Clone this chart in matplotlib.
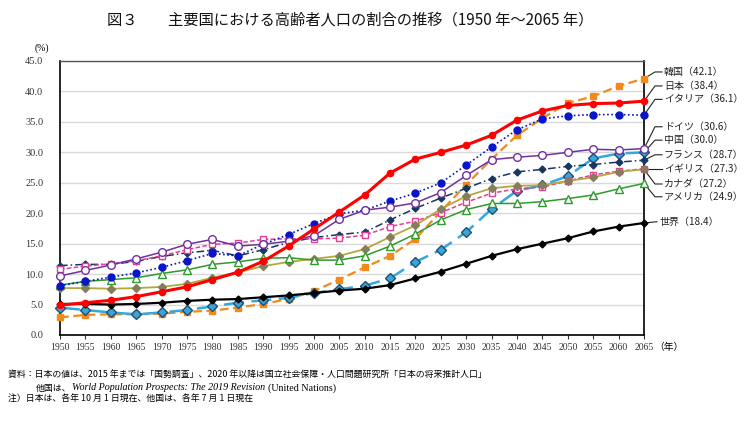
import matplotlib
matplotlib.use("Agg")
import matplotlib.pyplot as plt
import numpy as np

plt.rcParams['font.family'] = ['Noto Sans CJK JP', 'DejaVu Sans']

years = list(range(1950, 2070, 5))

korea   = [2.9, 3.3, 3.4, 3.4, 3.5, 3.8, 4.0, 4.5, 5.1, 5.9, 7.2, 9.1, 11.1, 13.0, 15.8, 20.3, 24.7, 28.9, 32.8, 35.6, 38.1, 39.2, 40.9, 42.1]
japan   = [4.9, 5.3, 5.7, 6.3, 7.1, 7.9, 9.1, 10.3, 12.1, 14.6, 17.4, 20.2, 23.0, 26.6, 28.9, 30.0, 31.2, 32.8, 35.3, 36.8, 37.7, 38.0, 38.1, 38.4]
italy   = [8.1, 8.8, 9.5, 10.2, 11.1, 12.2, 13.4, 13.0, 14.9, 16.5, 18.3, 19.9, 20.5, 22.0, 23.3, 25.0, 27.9, 30.9, 33.7, 35.5, 36.0, 36.2, 36.2, 36.1]
germany = [9.7, 10.6, 11.5, 12.5, 13.6, 14.9, 15.7, 14.6, 14.9, 15.4, 16.3, 19.0, 20.5, 21.0, 21.7, 23.4, 26.2, 28.8, 29.2, 29.5, 30.0, 30.5, 30.4, 30.6]
china   = [4.5, 4.1, 3.7, 3.4, 3.7, 4.1, 4.7, 5.3, 5.7, 6.1, 6.9, 7.5, 8.1, 9.3, 12.0, 14.0, 16.9, 20.7, 23.7, 24.6, 26.1, 29.0, 29.8, 30.0]
france  = [11.4, 11.6, 11.6, 12.1, 12.9, 13.5, 13.9, 13.0, 14.0, 15.2, 16.0, 16.5, 16.9, 18.9, 20.8, 22.5, 24.1, 25.7, 26.8, 27.2, 27.7, 28.0, 28.4, 28.7]
uk      = [10.8, 11.3, 11.7, 12.2, 13.0, 14.0, 14.9, 15.1, 15.7, 15.8, 15.8, 15.9, 16.4, 17.8, 18.7, 20.1, 21.8, 23.3, 24.0, 24.3, 25.3, 26.3, 26.9, 27.3]
canada  = [7.7, 7.7, 7.6, 7.7, 7.9, 8.4, 9.4, 10.3, 11.3, 12.0, 12.5, 13.0, 14.1, 16.1, 18.0, 20.7, 22.8, 24.1, 24.5, 24.6, 25.3, 25.9, 26.8, 27.2]
usa     = [8.2, 8.8, 9.1, 9.4, 10.1, 10.7, 11.6, 12.0, 12.6, 12.7, 12.3, 12.3, 13.0, 14.6, 16.6, 18.9, 20.6, 21.6, 21.6, 21.9, 22.4, 23.0, 24.0, 24.9]
world   = [5.1, 5.1, 5.0, 5.1, 5.3, 5.6, 5.8, 5.9, 6.2, 6.5, 6.9, 7.3, 7.6, 8.2, 9.3, 10.4, 11.7, 13.0, 14.1, 15.0, 15.9, 17.0, 17.8, 18.4]

names = ['韓国', '日本', 'イタリア', 'ドイツ', '中国', 'フランス', 'イギリス', 'カナダ', 'アメリカ', '世界']
series = [korea, japan, italy, germany, china, france, uk, canada, usa, world]

# style per series
styles = [
    dict(color='#F08A1C', ls=(0, (4, 2)), lw=1.6, marker='s', ms=5, mfc='#F08A1C', mec='#F08A1C', z=4),
    dict(color='#FF0000', ls='-', lw=2.2, marker='o', ms=4.5, mfc='#FF0000', mec='#FF0000', z=9),
    dict(color='#0A14B4', ls=(0, (1, 1.5)), lw=1.2, marker='o', ms=5, mfc='#0A14C8', mec='#0A14C8', z=5),
    dict(color='#7030A0', ls='-', lw=1.1, marker='o', ms=5.5, mfc='white', mec='#7030A0', z=5),
    dict(color='#33A8DC', ls=(0, (8, 3)), lw=1.8, marker='D', ms=5, mfc='#3AA6D6', mec='#1F4E79', z=4),
    dict(color='#17375E', ls=(0, (5, 2, 1, 2)), lw=1.1, marker='D', ms=3.5, mfc='#17375E', mec='#17375E', z=4),
    dict(color='#E63C96', ls=(0, (3, 1.5)), lw=1.1, marker='s', ms=5, mfc='white', mec='#E63C96', z=4),
    dict(color='#B4A83C', ls='-', lw=1.3, marker='D', ms=4.5, mfc='#857D5C', mec='#857D5C', z=4),
    dict(color='#2E9A2E', ls='-', lw=1.1, marker='^', ms=5.5, mfc='white', mec='#2E9A2E', z=4),
    dict(color='#000000', ls='-', lw=1.6, marker='D', ms=3.5, mfc='#000000', mec='#000000', z=6),
]

# label heights at right (data units)
label_y = [43.2, 40.9, 38.7, 34.2, 32.0, 29.6, 27.3, 24.8, 22.7, 18.6]

W, H = 750, 437
fig = plt.figure(figsize=(7.5, 4.37), dpi=100)
ax = fig.add_axes([60 / W, 1 - 335 / H, 584 / W, 274 / H])

for vals, st in zip(series, styles):
    ax.plot(years, vals, color=st['color'], ls=st['ls'], lw=st['lw'], marker=st['marker'],
            ms=st['ms'], mfc=st['mfc'], mec=st['mec'], mew=1.0, zorder=st['z'], clip_on=False)

ax.set_xlim(1950, 2065)
ax.set_ylim(0, 45)
ax.set_yticks(np.arange(0, 45.1, 5))
ax.set_yticklabels(['%.1f' % v for v in np.arange(0, 45.1, 5)], fontfamily='Liberation Serif', fontsize=7.5)
ax.set_xticks(years)
ax.set_xticklabels([str(y) for y in years], fontfamily='Liberation Serif', fontsize=7)
ax.tick_params(axis='y', length=0, pad=12, colors='#333333')
ax.tick_params(axis='x', length=3, pad=3, colors='#333333', direction='out')
ax.grid(axis='y', color='#D9D9D9', lw=1.0)
ax.set_axisbelow(True)
for s in ['left', 'bottom', 'right']:
    ax.spines[s].set_color('black')
    ax.spines[s].set_linewidth(1.2)
ax.spines['top'].set_color('#555555')
ax.spines['top'].set_linewidth(1.0)

def px2year(px):
    return 1950 + (px - 60) * 115 / 584

for name, vals, ly in zip(names, series, label_y):
    v = vals[-1]
    if name == '世界':
        xs = [2065, px2year(657)]
        ys = [v, ly]
        tx = px2year(659)
    else:
        xs = [2065, px2year(655), px2year(662)]
        ys = [v, ly, ly]
        tx = px2year(664)
    ax.plot(xs, ys, color='#222222', lw=0.8, clip_on=False, zorder=2)
    ax.text(tx, ly, '%s（%.1f）' % (name, v), fontsize=7.2, va='center', ha='left', color='#222222')

def fx(x):
    return x / W

def fy(y):
    return 1 - y / H

fig.text(fx(42), fy(48), '(%)', fontsize=7, ha='center', va='center', fontfamily='Liberation Serif')
fig.text(fx(669), fy(347), '（年）', fontsize=7, ha='center', va='center')

fig.text(fx(350), fy(20), '図３　　主要国における高齢者人口の割合の推移（1950 年～2065 年）',
         fontsize=11, ha='center', va='center', color='#111111')

fs = 6.4
fig.text(fx(8), fy(375), '資料：日本の値は、2015 年までは「国勢調査」、2020 年以降は国立社会保障・人口問題研究所「日本の将来推計人口」',
         fontsize=fs, ha='left', va='center')
t1 = fig.text(fx(36), fy(388), '他国は、', fontsize=fs, ha='left', va='center')
fig.canvas.draw()
r = fig.canvas.get_renderer()
x1 = t1.get_window_extent(r).x1
t2 = fig.text(x1 / W, fy(388), 'World Population Prospects: The 2019 Revision', fontsize=7.2,
              style='italic', fontfamily='Liberation Serif', ha='left', va='center')
x2 = t2.get_window_extent(r).x1
fig.text((x2 + 3) / W, fy(388), '(United Nations)', fontsize=7.2, fontfamily='Liberation Serif',
         ha='left', va='center')
fig.text(fx(8), fy(399), '注）日本は、各年 10 月 1 日現在、他国は、各年 7 月 1 日現在',
         fontsize=fs, ha='left', va='center')

fig.savefig('out.png', dpi=100)
